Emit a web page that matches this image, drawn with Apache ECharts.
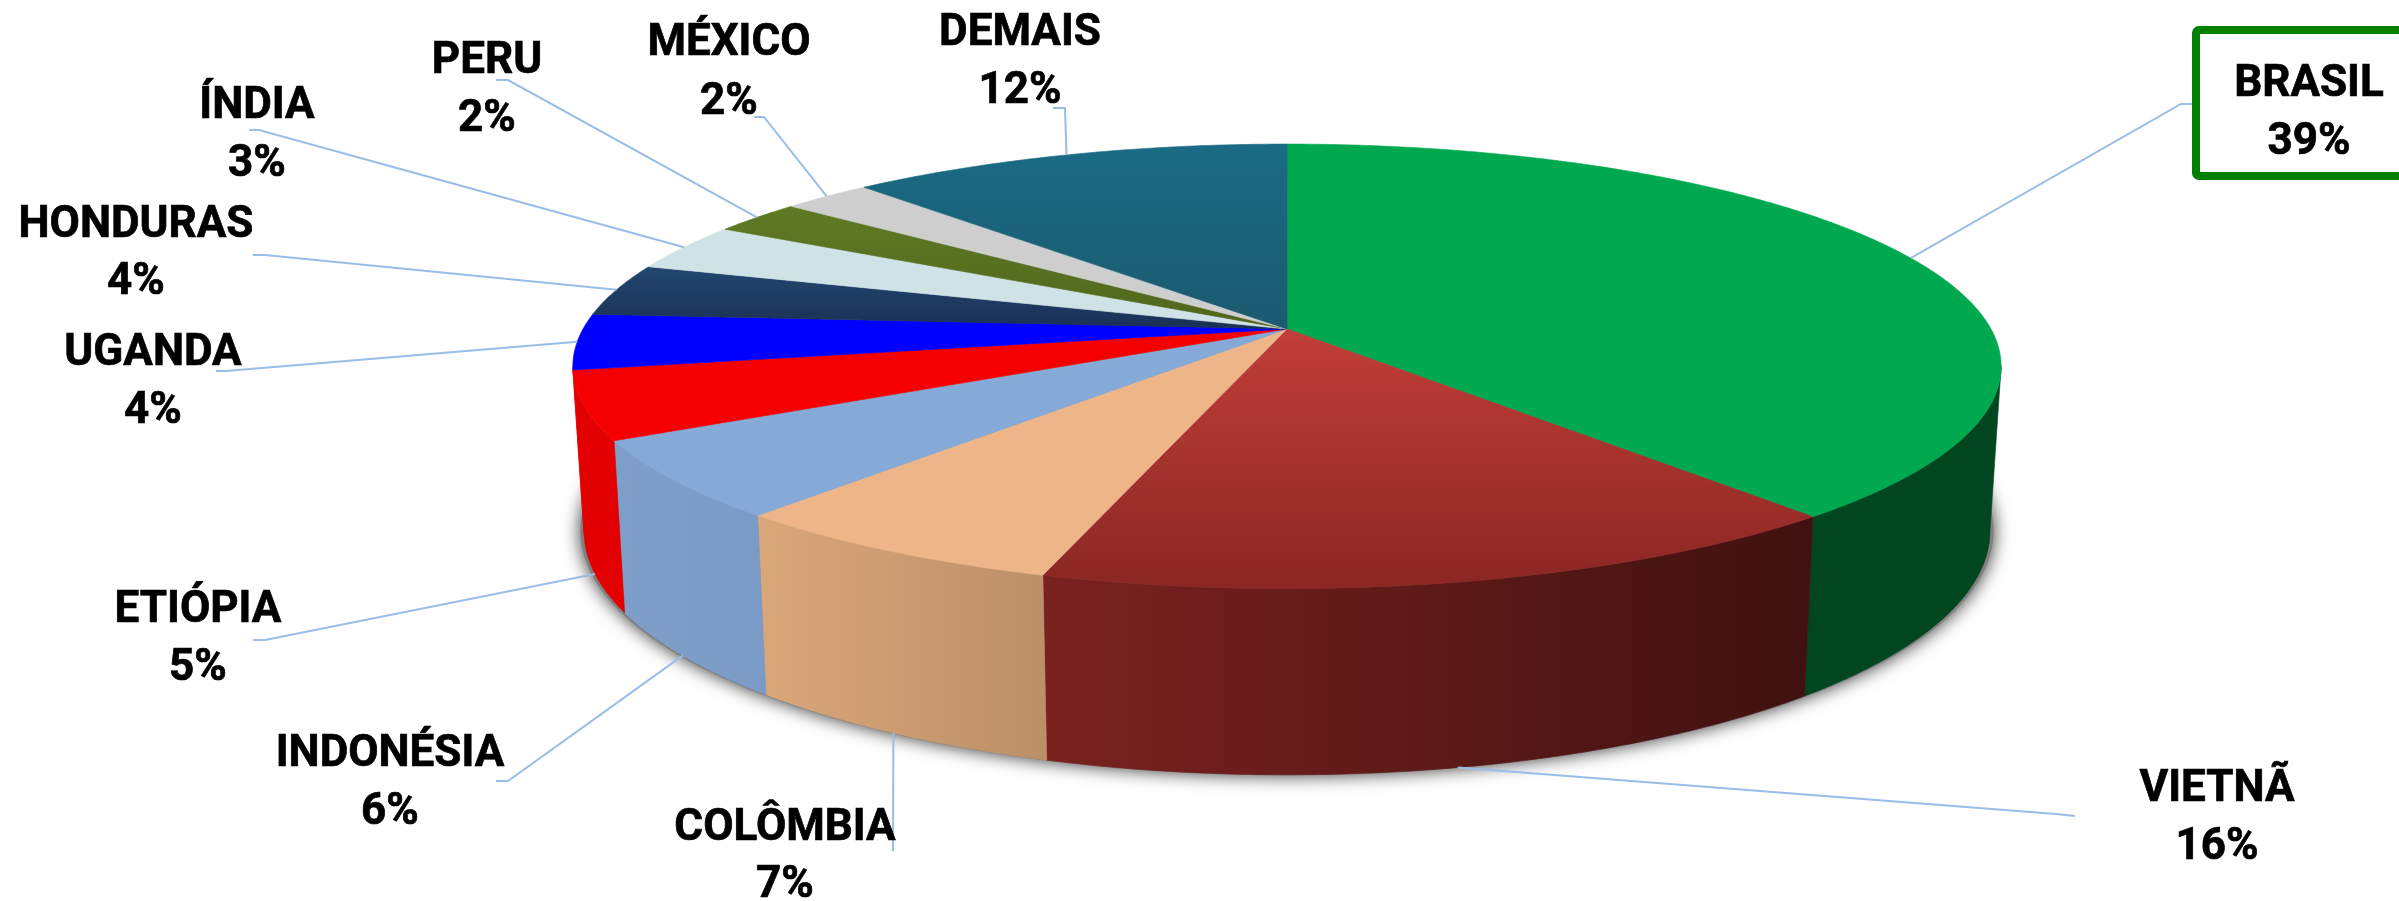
<!DOCTYPE html>
<html>
<head>
<meta charset="utf-8">
<style>html,body{margin:0;padding:0;background:#fff;overflow:hidden}#c{width:2399px;height:901px}</style>
<script src="https://cdn.jsdelivr.net/npm/echarts@6/dist/echarts.min.js"></script>
</head>
<body>
<div id="c"></div>
<script>
const categories = ['BRASIL','VIETNÃ','COLÔMBIA','INDONÉSIA','ETIÓPIA','UGANDA','HONDURAS','ÍNDIA','PERU','MÉXICO','DEMAIS'];
const shares = [38.7,16.0,6.7,5.7,4.95,4.05,3.8,3.45,2.45,2.4,11.8];

const topFrom = ['#00A84F','#C23E39','#EDB588','#86AAD7','#F50000','#0000FF','#21476F','#CFE2E6','#5F7A24','#CECECE','#1A6B84'];
const topTo   = ['#00A84F','#8A2623','#EDB588','#86AAD7','#F50000','#0000FF','#1A3055','#CFE2E6','#50661C','#CECECE','#1B5A70'];
const wallFrom = ['#01461F','#7A2220','#DAA77A','#7F9FCB','#E30000','#E30000','#1A3055','#B0C4C8','#50661C','#AAAAAA','#1B5A70'];
const wallTo   = ['#01461F','#3F1110','#BC8F68','#7A9BC6','#E30000','#E30000','#1A3055','#B0C4C8','#50661C','#AAAAAA','#1B5A70'];

// label layout: text centre x, name y, percent y, leader end x/y, leader elbow x/y
const labelX   = [2309,2217,785,390,198,153,136,257,487,729,1020];
const pctX     = [2309,2217,785,390,198,153,136,257,487,729,1020];
const nameY    = [85,790,829,755,611,354,226,107,62,44,34];
const pctY     = [143,848,886,813,669,412,283,165,120,103,92];
const leaderX0 = [2192,2075,893,496,253,216,253,249,496,754,1053];
const leaderY0 = [104,816,851,781,640,371,255,130,80,117,108];
const leaderX1 = [2181,2056,893,508,265,226,265,259,508,764,1065];
const leaderY1 = [104,814,840,781,640,371,255,130,80,117,108];

// perspective disc geometry
const cx = 1287, persp = 0.168;
const topDisc = {cy:329, a:704, b:216};
const botDisc = {cy:490, a:693, b:237};
const wallMin = 99.7, wallMax = 260.3;

function rim(d, deg) {
  const t = deg * Math.PI / 180, D = 1 + persp * Math.cos(t);
  return [cx + d.a * Math.sin(t) / D, d.cy - d.b * Math.cos(t) / D];
}
function arc(d, from, to) {
  const pts = [], n = Math.max(2, Math.ceil(Math.abs(to - from) / 0.5));
  for (let i = 0; i <= n; i++) pts.push(rim(d, from + (to - from) * i / n));
  return pts;
}
const total = shares.reduce((s, v) => s + v, 0);
let acc = 0;
const slices = shares.map((v, i) => {
  const start = acc / total * 360; acc += v;
  return [start, acc / total * 360, i];
});
const grad = (x2, y2, a, b) => new echarts.graphic.LinearGradient(0, 0, x2, y2, [{offset:0,color:a},{offset:1,color:b}]);

const chart = echarts.init(document.getElementById('c'), null, {renderer:'canvas'});
chart.setOption({
  backgroundColor:'#ffffff',
  animation:false,
  series:[
    { type:'custom', coordinateSystem:'none', silent:true, z:1, data:[[0]],
      renderItem(){
        const shadowDisc = {cy:botDisc.cy, a:botDisc.a*1.005, b:botDisc.b*1.001};
        return {type:'polygon', shape:{points:arc(shadowDisc,0,360)},
          style:{fill:'#808080', shadowBlur:18, shadowColor:'rgba(0,0,0,0.8)'}};
      }},
    { type:'custom', coordinateSystem:'none', silent:true, z:2, data:slices,
      renderItem(p, api){
        const s = Math.max(api.value(0), wallMin), e = Math.min(api.value(1), wallMax), i = api.value(2);
        if (e <= s) return null;
        const pts = arc(topDisc, s, e).concat(arc(botDisc, e, s));
        const g = grad(1, 0, wallFrom[i], wallTo[i]);
        return {type:'polygon', shape:{points:pts}, style:{fill:g, stroke:g, lineWidth:0.6}};
      }},
    { type:'custom', coordinateSystem:'none', silent:true, z:3, data:slices,
      renderItem(p, api){
        const i = api.value(2);
        const pts = [[cx, topDisc.cy]].concat(arc(topDisc, api.value(0), api.value(1)));
        const g = grad(0, 1, topFrom[i], topTo[i]);
        return {type:'polygon', shape:{points:pts}, style:{fill:g, stroke:g, lineWidth:0.6}};
      }},
    { type:'custom', coordinateSystem:'none', silent:true, z:4, data:slices,
      renderItem(p, api){
        const i = api.value(2), mid = (api.value(0) + api.value(1)) / 2;
        const anchor = (mid > wallMin && mid < wallMax) ? rim(botDisc, mid) : rim(topDisc, mid);
        const font = '700 44px Roboto';
        const ink = {font, fill:'#000', stroke:'#000', lineWidth:0.7, align:'center', verticalAlign:'middle'};
        const children = [
          {type:'polyline', shape:{points:[[leaderX0[i],leaderY0[i]],[leaderX1[i],leaderY1[i]],anchor]},
           style:{fill:'none', stroke:'#9ABDE8', lineWidth:2}},
          {type:'text', style:Object.assign({text:categories[i], x:labelX[i], y:nameY[i]}, ink)},
          {type:'text', style:Object.assign({text:Math.round(shares[i]) + '%', x:pctX[i], y:pctY[i]}, ink)}
        ];
        if (i === 0) children.unshift({type:'rect', shape:{x:2196,y:30,width:226,height:146,r:3},
          style:{fill:'#fff', stroke:'#008000', lineWidth:8}});
        return {type:'group', children};
      }}
  ]
});
</script>
</body>
</html>
